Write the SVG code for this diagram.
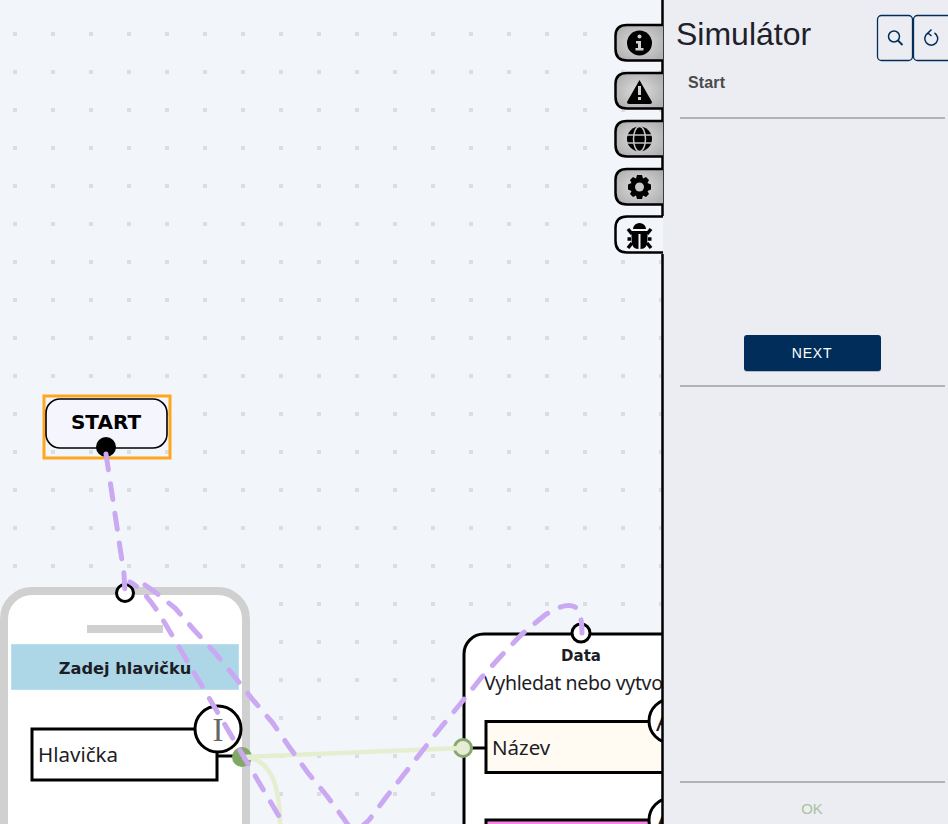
<svg xmlns="http://www.w3.org/2000/svg" width="948" height="824" viewBox="0 0 948 824">
<style>
text{font-family:"Noto Sans","Open Sans","Liberation Sans",sans-serif;fill:#1d1d26}
.b{font-family:"DejaVu Sans","Liberation Sans",sans-serif;font-weight:700}
.sim{font-family:"Liberation Sans",Arial,sans-serif}
.dash{fill:none;stroke:#cba8f2;stroke-width:5;stroke-dasharray:16 14;stroke-linecap:round;stroke-linejoin:round}
.green{fill:none;stroke:#e6eed2;stroke-width:4.5}
.box{stroke:#000;stroke-width:3}
.tab{fill:url(#tabg);stroke:#000;stroke-width:2.500}
.rule{stroke:#b2b2b6;stroke-width:2}
.tool{fill:none;stroke:#002d5a;stroke-width:1.3}
</style>
<defs>
<pattern id="dots" x="13" y="32" width="38" height="38" patternUnits="userSpaceOnUse"><rect x="0" y="0" width="4" height="4" fill="#dcdde0"/></pattern>
<radialGradient id="tabg" cx="50%" cy="50%" r="60%"><stop offset="0" stop-color="#dedede"/><stop offset="1" stop-color="#b0b0b0"/></radialGradient>
</defs>
<rect width="948" height="824" fill="#f2f6fa"/>
<rect width="948" height="824" fill="url(#dots)"/>
<g id="node-start">
<rect x="44" y="396" width="126" height="62" fill="none" stroke="#ffa51f" stroke-width="3"/>
<rect x="46" y="399" width="121" height="49" rx="14" fill="#f5f6fd" stroke="#000" stroke-width="1.6"/>
<text class="b" x="106" y="429" font-size="20" text-anchor="middle" style="fill:#000">START</text>
<circle cx="106" cy="447" r="10" fill="#000"/>
</g>
<g id="node-phone">
<rect x="4" y="591" width="242" height="300" rx="28" fill="#fff" stroke="#d0d0d0" stroke-width="8"/>
<rect x="87" y="625" width="76" height="8" fill="#d0d0d0"/>
<rect x="11.500" y="644.500" width="227" height="45" fill="#add6e6" stroke="#b9e0ee"/>
<text class="b" x="125" y="674" font-size="16.200" text-anchor="middle">Zadej hlavičku</text>
<rect class="box" x="32" y="729" width="185" height="51" fill="#fff"/>
<text x="38" y="762" font-size="20.500">Hlavička</text>
<line x1="217" y1="756" x2="234" y2="756" stroke="#000" stroke-width="3"/>
<circle cx="218" cy="729" r="23" fill="#fff" stroke="#000" stroke-width="3"/>
<text x="218" y="741" font-size="33" text-anchor="middle" style="font-family:'Liberation Serif',serif;fill:#666">I</text>
<circle cx="125" cy="593" r="8.500" fill="#fff" stroke="#000" stroke-width="3"/>
<circle cx="242" cy="757" r="10" fill="#82a866"/>
</g>
<g id="node-data">
<rect x="464" y="634" width="300" height="300" rx="20" fill="#fff" stroke="#000" stroke-width="3"/>
<circle cx="581" cy="633" r="9" fill="#fff" stroke="#000" stroke-width="3"/>
<text class="b" x="581" y="661" font-size="15" text-anchor="middle">Data</text>
<text x="484" y="690" font-size="19.500" letter-spacing="-.35">Vyhledat nebo vytvoř</text>
<line x1="472" y1="748" x2="486" y2="748" stroke="#000" stroke-width="3"/>
<rect class="box" x="486" y="721.500" width="200" height="51" fill="#fffbf3"/>
<text x="492" y="755" font-size="20.500">Název</text>
<circle cx="671" cy="721" r="22" fill="#fff" stroke="#000" stroke-width="3"/>
<text x="656" y="731" font-size="26">A</text>
<rect class="box" x="486" y="820" width="200" height="50" fill="#ff80e6"/>
<circle cx="671" cy="820" r="22" fill="#fff" stroke="#000" stroke-width="3"/>
<text x="656" y="830" font-size="26">A</text>
<circle cx="463" cy="748" r="8.500" fill="#e6ecd6" stroke="#88a870" stroke-width="3"/>
</g>
<g id="connectors">
<path class="green" d="M242 757L463 748"/>
<path class="green" d="M242 757C268 757 280 780 280 824"/>
<path class="dash" d="M106 454L124 574L125 592"/>
<path class="dash" d="M145 585L155 592L175 608L195 631L216 654L234 676L253 700L272 722L290 748L308 773L327 796L344 819Q352 832 358 830L369 820L387 796L405 773L423 750L442 726L461 703L481 678L501 656L522 634L545 615Q565 602 575 607Q582 612 582 633"/>
<path class="dash" stroke-dashoffset="8" d="M130 582Q145 590 163 620L280 818"/>
</g>
<g id="panel">
<rect x="663" y="0" width="285" height="824" fill="#ebedf2"/>
<path d="M662.500 0V216M662.500 254V824" stroke="#000" stroke-width="2.500" fill="none"/>
<path class="tab" d="M663 25H627Q615.500 25 615.500 36V49Q615.500 60.500 627 60.500H663"/>
<path class="tab" d="M663 73H627Q615.500 73 615.500 84V97Q615.500 108.500 627 108.500H663"/>
<path class="tab" d="M663 121H627Q615.500 121 615.500 132V145Q615.500 156.500 627 156.500H663"/>
<path class="tab" d="M663 169H627Q615.500 169 615.500 180V193Q615.500 204.500 627 204.500H663"/>
<path d="M663 216.500H627Q615.500 216.500 615.500 228V241Q615.500 252.500 627 252.500H663" fill="#f2f6fa" stroke="#000" stroke-width="2.500"/>
<circle cx="639.500" cy="43" r="12.500" fill="#000"/>
<circle cx="639.500" cy="36.500" r="2" fill="#d0d0d0"/>
<path d="M636 41H641V48H643.500V50.500H635.500V48H638V43.500H636Z" fill="#d0d0d0"/>
<path d="M639.500 80L652 102Q652 104 650 104H629Q627 104 627 102Z" fill="#000"/>
<path d="M638 86H641V95H638ZM638 97H641V100H638Z" fill="#d0d0d0"/>
<circle cx="639.500" cy="139" r="12.500" fill="#000"/>
<g fill="none" stroke="#c4c4c4" stroke-width="1.500"><ellipse cx="639.500" cy="139" rx="6" ry="12.500"/><path d="M627 135H652M627 143H652"/></g>
<path d="M639.500 175L642 175L643 178.500L646 177L649 180L647.500 183L651 184.500V189.500L647.500 191L649 194L646 197L643 195.500L642 199H637L636 195.500L633 197L630 194L631.500 191L628 189.500V184.500L631.500 183L630 180L633 177L636 178.500L637 175Z" fill="#000"/>
<circle cx="639.500" cy="187" r="4.500" fill="#c8c8c8"/>
<path d="M633 229A6.500 6 0 0 1 646 229Z M631.500 231H647.500V240Q647.500 249 640.500 249V234H638.500V249Q631.500 249 631.500 240Z" fill="#000"/>
<path d="M632 234L628 229M647 234L651 229M631 239H627.500M648 239H651.500M632 243L628 248M647 243L651 248" stroke="#000" stroke-width="3.500" fill="none"/>
<text class="sim" x="676" y="45" font-size="32" style="fill:#1e2129">Simulátor</text>
<rect class="tool" x="877.500" y="15.500" width="35" height="45" rx="4"/>
<rect class="tool" x="913.500" y="15.500" width="38" height="45" rx="4"/>
<circle cx="894" cy="36.500" r="5.500" fill="none" stroke="#002d5a" stroke-width="1.500"/>
<path d="M898 40.500L902.500 45" stroke="#002d5a" stroke-width="1.800"/>
<path d="M928 33A6.500 6.500 0 1 0 934.500 33M931.500 29.500L928 33L931.500 36" fill="none" stroke="#002d5a" stroke-width="1.500"/>
<text class="sim" x="688" y="88" font-size="16" letter-spacing=".15" font-weight="700" style="fill:#4a4a4c">Start</text>
<line class="rule" x1="680" y1="118" x2="945" y2="118"/>
<rect x="744" y="336" width="137" height="36" rx="3" fill="#b8bac0"/>
<rect x="744" y="335" width="137" height="36" rx="3" fill="#002d5a"/>
<text class="sim" x="812" y="358" font-size="14" text-anchor="middle" letter-spacing=".8" style="fill:#fff">NEXT</text>
<line class="rule" x1="680" y1="386" x2="945" y2="386"/>
<line class="rule" x1="680" y1="782" x2="945" y2="782"/>
<text class="sim" x="812" y="814" font-size="15" text-anchor="middle" style="fill:#a9c39c">OK</text>
</g>
</svg>
